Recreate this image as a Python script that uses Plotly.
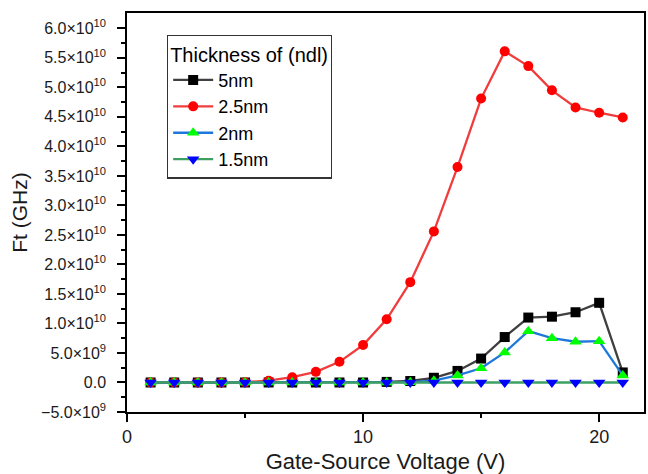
import plotly.graph_objects as go

voltage = list(range(1, 22))
ft_5nm = [0, 0, 0, 0, 0, 0, 0, 0, 0, 0, 0.1e9, 0.25e9, 0.8e9, 1.96e9, 4.05e9, 7.7e9,
          1.10e10, 1.115e10, 1.19e10, 1.35e10, 1.7e9]
ft_2p5nm = [0, 0, 0, 0, 0.05e9, 0.3e9, 0.9e9, 1.8e9, 3.5e9, 6.35e9, 1.07e10, 1.7e10,
            2.56e10, 3.65e10, 4.81e10, 5.61e10, 5.36e10, 4.95e10, 4.66e10, 4.57e10, 4.49e10]
ft_2nm = [0, 0, 0, 0, 0, 0, 0, 0, 0, 0, 0, 0.05e9, 0.3e9, 1.2e9, 2.4e9, 5.1e9,
          8.7e9, 7.5e9, 6.9e9, 7.0e9, 1.2e9]
ft_1p5nm = [0] * 21

y_ticks = [-5e9, 0, 5e9, 1e10, 1.5e10, 2e10, 2.5e10, 3e10, 3.5e10, 4e10, 4.5e10,
           5e10, 5.5e10, 6e10]
y_ticktext = ["\u22125.0\u00d710<sup>9</sup>", "0.0", "5.0\u00d710<sup>9</sup>",
              "1.0\u00d710<sup>10</sup>", "1.5\u00d710<sup>10</sup>", "2.0\u00d710<sup>10</sup>",
              "2.5\u00d710<sup>10</sup>", "3.0\u00d710<sup>10</sup>", "3.5\u00d710<sup>10</sup>",
              "4.0\u00d710<sup>10</sup>", "4.5\u00d710<sup>10</sup>", "5.0\u00d710<sup>10</sup>",
              "5.5\u00d710<sup>10</sup>", "6.0\u00d710<sup>10</sup>"]
y_minor = [-2.5e9 + 5e9 * i for i in range(13)]
x_ticks = [0, 10, 20]
x_minor = [5, 15]

series = [
    ("5nm", ft_5nm, "#404040", "#000000", "square", 10),
    ("2.5nm", ft_2p5nm, "#F03C3C", "#FF0000", "circle", 10),
    ("2nm", ft_2nm, "#1E78DC", "#00FF00", "triangle-up", 11),
    ("1.5nm", ft_1p5nm, "#3CA064", "#0000FF", "triangle-down", 11),
]

fig = go.Figure()
for name, vals, lc, mc, sym, ms in series:
    fig.add_trace(go.Scatter(
        x=voltage, y=vals, name=name, mode="lines+markers",
        line=dict(color=lc, width=2.3),
        marker=dict(color=mc, symbol=sym, size=ms, line=dict(width=0)),
    ))

font = "Liberation Sans, Arial, sans-serif"
fig.update_layout(
    width=648, height=474,
    margin=dict(l=127, r=4, t=13, b=61.5, autoexpand=False),
    plot_bgcolor="white", paper_bgcolor="white",
    font=dict(family=font, color="#1a1a1a"),
    showlegend=True,
    legend=dict(
        x=0.0773, y=0.946, xanchor="left", yanchor="top",
        bordercolor="#333333", borderwidth=1.2, bgcolor="white",
        font=dict(size=18, family=font, color="#000000"),
        title=dict(text="Thickness of (ndl)", font=dict(size=20, family=font, color="#000000")),
        tracegroupgap=0, itemwidth=40,
    ),
    xaxis=dict(
        range=[0, 21.9], tickmode="array", tickvals=x_ticks,
        ticks="outside", ticklen=8, tickwidth=1.5, tickcolor="black",
        minor=dict(tickmode="array", tickvals=x_minor, ticks="outside", ticklen=4,
                   tickwidth=1.5, tickcolor="black"),
        showline=True, linecolor="black", linewidth=1.5, mirror=True,
        showgrid=False, zeroline=False, automargin=False,
        tickfont=dict(size=18, family=font),
        title=dict(text="Gate-Source Voltage (V)", font=dict(size=22, family=font), standoff=10),
    ),
    yaxis=dict(
        range=[-5e9, 6.26e10], tickmode="array", tickvals=y_ticks, ticktext=y_ticktext,
        ticks="outside", ticklen=8, tickwidth=1.5, tickcolor="black",
        minor=dict(tickmode="array", tickvals=y_minor, ticks="outside", ticklen=4,
                   tickwidth=1.5, tickcolor="black"),
        showline=True, linecolor="black", linewidth=1.5, mirror=True,
        showgrid=False, zeroline=False, automargin=False, ticklabelstandoff=8,
        tickfont=dict(size=16, family=font),
        title=dict(text="Ft (GHz)", font=dict(size=21, family=font), standoff=8),
    ),
)

fig.write_html("out.html", config={"displayModeBar": False},
               post_script="document.body.style.margin='0';")
